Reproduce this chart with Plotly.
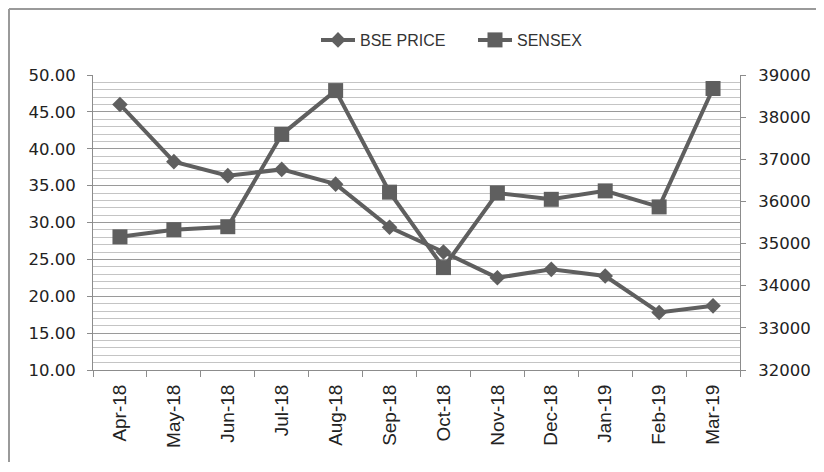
import plotly.graph_objects as go

months = ["Apr-18", "May-18", "Jun-18", "Jul-18", "Aug-18", "Sep-18",
          "Oct-18", "Nov-18", "Dec-18", "Jan-19", "Feb-19", "Mar-19"]
bse_price = [46.0, 38.25, 36.35, 37.2, 35.2, 29.35, 26.0, 22.5, 23.65, 22.75, 17.8, 18.7]
sensex = [35160, 35330, 35400, 37590, 38630, 36220, 34430, 36200, 36050, 36250, 35870, 38680]
left_ticks = [10, 15, 20, 25, 30, 35, 40, 45, 50]
right_ticks = [32000, 33000, 34000, 35000, 36000, 37000, 38000, 39000]

series_color = "#5f5f5f"
axis_color = "#8c8c8c"
font_family = "DejaVu Sans"

# figure is drawn inside the page's default 8px body margin
W, H = 808, 454
L, R, T, B = 85, 76, 67, 92
PW, PH = W - L - R, H - T - B

fig = go.Figure()
fig.add_trace(go.Scatter(
    x=months, y=bse_price, name="BSE PRICE", mode="lines+markers",
    line=dict(color=series_color, width=4),
    marker=dict(symbol="diamond", size=12, color=series_color),
    yaxis="y"))
fig.add_trace(go.Scatter(
    x=months, y=sensex, name="SENSEX", mode="lines+markers",
    line=dict(color=series_color, width=4),
    marker=dict(symbol="square", size=15, color=series_color),
    yaxis="y2"))

border_x = (1 - L) / PW
border_y = (T + PH - 1) / PH

fig.update_layout(
    width=W, height=H,
    margin=dict(l=L, r=R, t=T, b=B, pad=0, autoexpand=False),
    paper_bgcolor="white", plot_bgcolor="white",
    showlegend=True,
    legend=dict(orientation="h", x=(308 - L) / PW, xanchor="left",
                y=(T + PH - 32) / PH, yanchor="middle",
                font=dict(family="Liberation Sans", size=16, color="#333333"),
                itemwidth=34, entrywidth=108, bgcolor="rgba(0,0,0,0)"),
    xaxis=dict(
        type="category", tickson="boundaries", ticks="outside", ticklen=6,
        tickcolor=axis_color, showline=True, linecolor=axis_color, linewidth=1,
        showgrid=False, tickangle=-90, automargin=False,
        tickfont=dict(family="Liberation Sans", size=19, color="#222222"),
        ticklabelstandoff=6, range=[-0.5, 11.5]),
    yaxis=dict(
        range=[10, 50], tickvals=left_ticks,
        ticktext=[f"{v:.2f}" for v in left_ticks],
        ticks="outside", ticklen=5, tickcolor=axis_color,
        showline=True, linecolor=axis_color, linewidth=1,
        showgrid=True, gridcolor="#9a9a9a", gridwidth=1,
        minor=dict(dtick=1, showgrid=True, gridcolor="#c4c4c4", gridwidth=1, ticks=""),
        zeroline=False, ticklabelstandoff=8, automargin=False,
        tickfont=dict(family=font_family, size=16.5, color="#222222")),
    yaxis2=dict(
        range=[32000, 39000], tickvals=right_ticks,
        ticktext=[str(v) for v in right_ticks],
        overlaying="y", side="right",
        ticks="outside", ticklen=5, tickcolor=axis_color,
        showline=True, linecolor=axis_color, linewidth=1,
        showgrid=False, zeroline=False, ticklabelstandoff=9, automargin=False,
        tickfont=dict(family=font_family, size=16.5, color="#222222")),
    shapes=[
        dict(type="line", xref="paper", yref="paper",
             x0=border_x, x1=border_x, y0=-B / PH, y1=border_y,
             line=dict(color="#9a9a9a", width=2), layer="below"),
        dict(type="line", xref="paper", yref="paper",
             x0=border_x, x1=(W - L) / PW, y0=border_y, y1=border_y,
             line=dict(color="#9a9a9a", width=2), layer="below"),
    ],
)

fig.write_html("out.html")
